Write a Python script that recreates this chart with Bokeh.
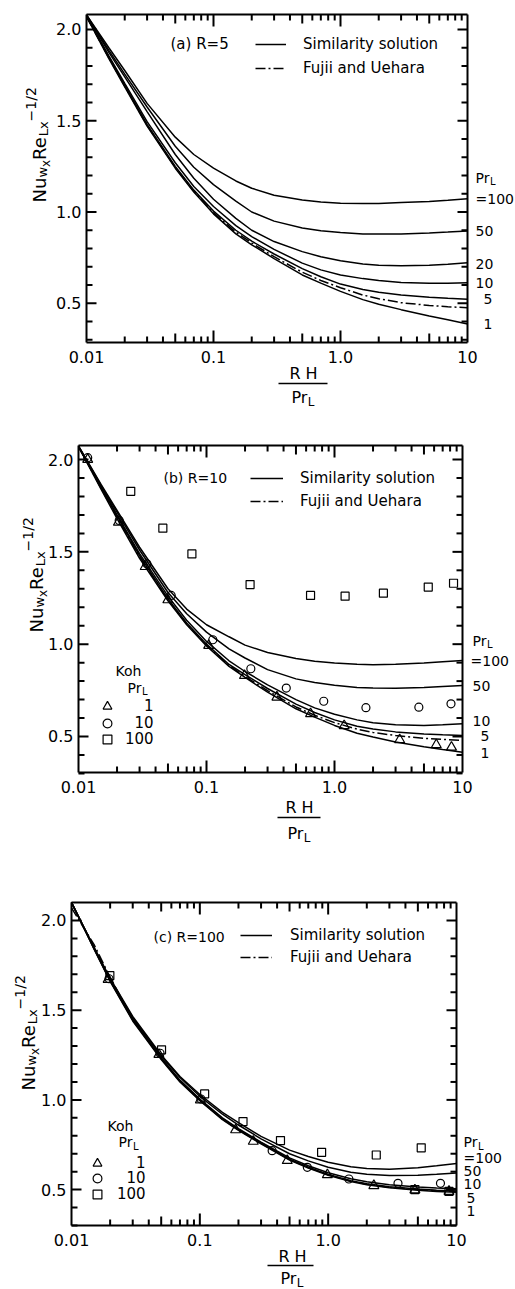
import math
from bokeh.plotting import figure
from bokeh.models import (FixedTicker, LogAxis, LinearAxis, Label, Legend, LegendItem,
                          CustomJSTickFormatter, PrintfTickFormatter, Arrow, Range1d)
from bokeh.layouts import column
from bokeh.embed import file_html
from bokeh.resources import INLINE

FONT = "DejaVu Sans"

# ---------------- data ----------------
X = [0.01, 0.015, 0.02, 0.03, 0.05, 0.07, 0.1, 0.15, 0.2, 0.3, 0.5, 0.7, 1.0, 1.5, 2.0, 3.0, 5.0, 7.0, 10.0]

# panel (a) R=5
a_pr1   = [2.07, 1.84, 1.685, 1.47, 1.24, 1.11, 0.99, 0.88, 0.82, 0.745, 0.655, 0.61, 0.565, 0.52, 0.495, 0.465, 0.43, 0.41, 0.386]
a_fujii = [2.07, 1.845, 1.69, 1.475, 1.245, 1.115, 0.995, 0.89, 0.83, 0.755, 0.67, 0.625, 0.585, 0.545, 0.525, 0.503, 0.488, 0.481, 0.475]
a_pr5   = [2.075, 1.85, 1.695, 1.48, 1.25, 1.12, 1.005, 0.90, 0.84, 0.77, 0.69, 0.645, 0.605, 0.575, 0.56, 0.545, 0.533, 0.527, 0.522]
a_pr10  = [2.075, 1.855, 1.705, 1.495, 1.27, 1.14, 1.03, 0.925, 0.865, 0.795, 0.72, 0.683, 0.655, 0.635, 0.625, 0.614, 0.61, 0.61, 0.612]
a_pr20  = [2.08, 1.875, 1.74, 1.55, 1.315, 1.185, 1.07, 0.965, 0.90, 0.838, 0.783, 0.755, 0.733, 0.715, 0.708, 0.705, 0.708, 0.714, 0.722]
a_pr50  = [2.08, 1.885, 1.755, 1.575, 1.36, 1.245, 1.15, 1.06, 1.00, 0.95, 0.912, 0.897, 0.887, 0.88, 0.879, 0.88, 0.885, 0.89, 0.896]
a_pr100 = [2.08, 1.90, 1.775, 1.595, 1.41, 1.315, 1.24, 1.17, 1.13, 1.092, 1.066, 1.055, 1.048, 1.046, 1.047, 1.052, 1.058, 1.064, 1.072]

# panel (b) R=10
b_pr1   = [2.07, 1.84, 1.68, 1.465, 1.235, 1.105, 0.99, 0.88, 0.82, 0.74, 0.65, 0.605, 0.56, 0.518, 0.497, 0.47, 0.445, 0.43, 0.415]
b_fujii = [2.07, 1.845, 1.69, 1.475, 1.24, 1.11, 0.995, 0.885, 0.825, 0.748, 0.66, 0.615, 0.575, 0.54, 0.522, 0.505, 0.49, 0.484, 0.479]
b_pr5   = [2.07, 1.85, 1.695, 1.48, 1.245, 1.115, 1.0, 0.89, 0.835, 0.76, 0.675, 0.63, 0.59, 0.555, 0.54, 0.525, 0.514, 0.509, 0.506]
b_pr10  = [2.07, 1.855, 1.70, 1.49, 1.26, 1.13, 1.015, 0.91, 0.852, 0.78, 0.70, 0.655, 0.62, 0.59, 0.575, 0.563, 0.56, 0.563, 0.569]
b_pr50  = [2.072, 1.86, 1.715, 1.51, 1.28, 1.165, 1.065, 0.975, 0.925, 0.862, 0.812, 0.792, 0.777, 0.766, 0.762, 0.761, 0.766, 0.771, 0.776]
b_pr100 = [2.074, 1.865, 1.725, 1.525, 1.30, 1.19, 1.105, 1.04, 0.995, 0.955, 0.922, 0.908, 0.898, 0.891, 0.889, 0.891, 0.898, 0.905, 0.912]

b_koh1_x   = [0.0118, 0.0205, 0.0332, 0.0499, 0.104, 0.198, 0.355, 0.65, 1.19, 3.23, 6.24, 8.2]
b_koh1_y   = [2.00, 1.66, 1.42, 1.24, 0.993, 0.83, 0.713, 0.623, 0.558, 0.482, 0.455, 0.442]
b_koh10_x  = [0.0118, 0.0208, 0.0342, 0.053, 0.112, 0.222, 0.42, 0.824, 1.76, 4.56, 8.13]
b_koh10_y  = [2.01, 1.67, 1.435, 1.264, 1.024, 0.867, 0.762, 0.691, 0.656, 0.659, 0.677]
b_koh100_x = [0.0256, 0.0456, 0.0769, 0.219, 0.65, 1.21, 2.41, 5.40, 8.51]
b_koh100_y = [1.828, 1.628, 1.489, 1.323, 1.264, 1.26, 1.276, 1.309, 1.33]

# panel (c) R=100
c_pr1   = [2.10, 1.84, 1.66, 1.44, 1.225, 1.10, 0.995, 0.89, 0.83, 0.755, 0.665, 0.62, 0.58, 0.545, 0.527, 0.51, 0.497, 0.49, 0.485]
c_fujii = [2.07, 1.865, 1.683, 1.45, 1.23, 1.105, 1.0, 0.893, 0.833, 0.758, 0.668, 0.623, 0.583, 0.548, 0.53, 0.513, 0.5, 0.494, 0.489]
c_pr5   = [2.10, 1.842, 1.663, 1.445, 1.23, 1.105, 1.0, 0.895, 0.835, 0.76, 0.67, 0.625, 0.585, 0.55, 0.533, 0.516, 0.503, 0.497, 0.492]
c_pr10  = [2.10, 1.845, 1.667, 1.45, 1.235, 1.11, 1.005, 0.90, 0.84, 0.765, 0.677, 0.633, 0.594, 0.56, 0.544, 0.527, 0.514, 0.509, 0.505]
c_pr50  = [2.10, 1.848, 1.672, 1.458, 1.245, 1.125, 1.02, 0.92, 0.86, 0.783, 0.70, 0.66, 0.625, 0.597, 0.585, 0.578, 0.58, 0.586, 0.593]
c_pr100 = [2.10, 1.85, 1.677, 1.465, 1.25, 1.13, 1.03, 0.93, 0.873, 0.797, 0.72, 0.685, 0.653, 0.628, 0.618, 0.614, 0.622, 0.633, 0.646]

c_koh1_x   = [0.0193, 0.048, 0.101, 0.19, 0.261, 0.48, 0.986, 2.27, 4.74, 8.74]
c_koh1_y   = [1.671, 1.253, 1.0, 0.833, 0.769, 0.662, 0.583, 0.522, 0.498, 0.49]
c_koh10_x  = [0.0196, 0.049, 0.102, 0.366, 0.688, 1.45, 3.5, 7.5]
c_koh10_y  = [1.675, 1.26, 1.005, 0.717, 0.624, 0.559, 0.535, 0.535]
c_koh100_x = [0.0199, 0.0503, 0.109, 0.217, 0.425, 0.889, 2.37, 4.74, 5.31, 8.74]
c_koh100_y = [1.693, 1.279, 1.033, 0.879, 0.773, 0.708, 0.693, 0.50, 0.733, 0.49]

KOH_LABELS = ["\u2007\u20071", "\u200710", "100"]

X_MAJOR = [0.01, 0.1, 1.0, 10.0]
X_MINOR = [m * d for d in (0.01, 0.1, 1.0) for m in (2, 3, 4, 6, 7, 8, 9)]
X_MID = [0.05, 0.5, 5.0]
Y_MAJOR = [0.5, 1.0, 1.5, 2.0]
Y_MINOR = [round(0.3 + 0.1 * i, 2) for i in range(18) if round(0.3 + 0.1 * i, 2) not in (0.5, 1.0, 1.5, 2.0)]

W = 515
TICK_W = 2


def style_axis(ax, show_labels):
    ax.axis_line_width = 2
    ax.axis_line_color = "black"
    ax.major_tick_in = 0
    ax.major_tick_out = 0
    ax.minor_tick_in = 0
    ax.minor_tick_out = 0
    if show_labels:
        ax.major_label_text_font = FONT
        ax.major_label_text_font_size = "16px"
        ax.major_label_text_color = "black"
    else:
        ax.major_label_text_font_size = "1px"
        ax.major_label_text_alpha = 0.0
        ax.major_label_standoff = 0


def make_panel(H, L, R, T, B, yb, yt):
    # the frame covers the whole figure; the box (pixels L..R, T..B) is drawn by
    # four axes fixed at the box edges, with inward ticks drawn on the same scales
    d = (R - L) / 3.0
    x0 = 10 ** (-2 - L / d)
    x1 = 10 ** (1 + (W - R) / d)
    s = (yt - yb) / (B - T)
    y0 = yb - (H - B) * s
    y1 = yt + T * s
    p = figure(width=W, height=H, x_axis_type="log", x_range=Range1d(x0, x1), y_range=Range1d(y0, y1),
               output_backend="svg", toolbar_location=None, x_axis_location=None, y_axis_location=None,
               min_border=0, min_border_left=0, min_border_right=0, min_border_top=0, min_border_bottom=0)
    p.title.visible = False
    p.xgrid.visible = False
    p.ygrid.visible = False
    p.outline_line_color = None
    p.background_fill_color = "white"
    p.border_fill_color = "white"
    xt = FixedTicker(ticks=X_MAJOR)
    yt_ = FixedTicker(ticks=Y_MAJOR)
    xf = CustomJSTickFormatter(code="return tick > 5 ? '10' : (tick > 0.5 ? '1.0' : (tick > 0.05 ? '0.1' : '0.01'));")

    bottom = LogAxis(ticker=xt, formatter=xf, fixed_location=yb, bounds=(0.01, 10))
    style_axis(bottom, True)
    bottom.major_label_standoff = 8
    p.add_layout(bottom, "below")

    left = LinearAxis(ticker=yt_, formatter=PrintfTickFormatter(format="%.1f"), fixed_location=0.01, bounds=(yb, yt))
    style_axis(left, True)
    left.major_label_standoff = 5
    p.add_layout(left, "left")

    top = LogAxis(ticker=xt, formatter=xf, fixed_location=yt, bounds=(0.01, 10))
    style_axis(top, False)
    p.add_layout(top, "above")

    right = LinearAxis(ticker=yt_, fixed_location=10, bounds=(yb, yt))
    style_axis(right, False)
    p.add_layout(right, "right")

    # inward tick marks (lengths in pixels converted through the scales)
    for ticks, ln in ((X_MAJOR[1:-1], 12), (X_MID, 9), (X_MINOR, 6)):
        dy = ln * s
        p.segment(x0=ticks, y0=[yb] * len(ticks), x1=ticks, y1=[yb + dy] * len(ticks),
                  line_color="black", line_width=TICK_W)
        p.segment(x0=ticks, y0=[yt] * len(ticks), x1=ticks, y1=[yt - dy] * len(ticks),
                  line_color="black", line_width=TICK_W)
    for ticks, ln in ((Y_MAJOR, 10), (Y_MINOR, 6)):
        f = 10 ** (ln / d)
        p.segment(x0=[0.01] * len(ticks), y0=ticks, x1=[0.01 * f] * len(ticks), y1=ticks,
                  line_color="black", line_width=TICK_W)
        p.segment(x0=[10.0] * len(ticks), y0=ticks, x1=[10.0 / f] * len(ticks), y1=ticks,
                  line_color="black", line_width=TICK_W)
    return p


def lab(p, H, px, py, text, size, align="left", baseline="middle", angle=0.0):
    p.add_layout(Label(x=px, y=H - py, x_units="screen", y_units="screen", text=text,
                       text_font=FONT, text_font_size=f"{size}px", text_align=align,
                       text_baseline=baseline, angle=angle, text_color="black"))


def ylabel(p, H, bx, by):
    a = math.pi / 2
    pieces = [("Nu", 18, 0, 0.0), ("w", 13, 3, 24.9), ("x", 12, 6, 35.5),
              ("Re", 18, 0, 42.6), ("Lx", 13, 4, 66.2), ("\u22121/2", 14, -9, 81.1)]
    for t, s, dx, dy in pieces:
        lab(p, H, bx + dx, by - dy, t, s, align="left", baseline="alphabetic", angle=a)


def xlabel(p, H, cx, y_rh, y_line, x0, x1, y_pr):
    lab(p, H, cx, y_rh, "R H", 16, align="center")
    p.add_layout(Arrow(x_start=x0, y_start=H - y_line, x_end=x1, y_end=H - y_line,
                       start_units="screen", end_units="screen", start=None, end=None,
                       line_color="black", line_width=1.5))
    lab(p, H, cx - 12, y_pr, "Pr", 16)
    lab(p, H, cx - 12 + 16.2, y_pr + 4, "L", 12)


def curves(p, ys_list, fujii):
    rs = []
    for ys in ys_list:
        rs.append(p.line(X, ys, line_color="black", line_width=1.5))
    rf = p.line(X, fujii, line_color="black", line_width=1.5, line_dash="10 3 2 3")
    return rs, rf


def main_legend(p, rs, rf, loc, gw, standoff, spacing):
    leg = Legend(items=[LegendItem(label="Similarity solution", renderers=[rs[0]]),
                        LegendItem(label="Fujii and Uehara", renderers=[rf])],
                 location=loc, glyph_width=gw, glyph_height=20, label_height=20,
                 label_standoff=standoff, spacing=spacing, padding=0, margin=0,
                 border_line_color=None, background_fill_alpha=0,
                 label_text_font=FONT, label_text_font_size="15px", label_text_color="black")
    p.add_layout(leg)


def koh(p, d):
    r1 = p.scatter(d[0], d[1], marker="triangle", size=10, line_color="black", fill_color=None, line_width=1.2)
    r2 = p.scatter(d[2], d[3], marker="circle", size=8, line_color="black", fill_color=None, line_width=1.2)
    r3 = p.scatter(d[4], d[5], marker="square", size=8, line_color="black", fill_color=None, line_width=1.2)
    return [r1, r2, r3]


def koh_legend(p, H, rs, gx, rows, standoff):
    for r, label, ry in zip(rs, KOH_LABELS, rows):
        leg = Legend(items=[LegendItem(label=label, renderers=[r])],
                     location=(gx - 11, H - (ry + 11)), glyph_width=22, glyph_height=22, label_height=22,
                     label_standoff=standoff, spacing=0, padding=0, margin=0,
                     border_line_color=None, background_fill_alpha=0,
                     label_text_font=FONT, label_text_font_size="15px", label_text_color="black")
        p.add_layout(leg)


# ---------------- panel (a) ----------------
Ha = 430
pa = make_panel(Ha, 86, 467, 14, 342, 0.285, 2.082)
rs, rf = curves(pa, [a_pr1, a_pr5, a_pr10, a_pr20, a_pr50, a_pr100], a_fujii)
main_legend(pa, rs, rf, (255, Ha - 78), 31, 17, 4)
lab(pa, Ha, 170, 43, "(a) R=5", 15)
for t, x, y in [("=100", 475, 198), ("50", 475, 230), ("20", 475, 263), ("10", 475, 282), ("5", 483, 298), ("1", 483, 323)]:
    lab(pa, Ha, x, y, t, 14)
lab(pa, Ha, 475, 177, "Pr", 14)
lab(pa, Ha, 489.5, 181, "L", 10)
ylabel(pa, Ha, 39, 202)
xlabel(pa, Ha, 303, 373, 383, 278, 327, 397)

# ---------------- panel (b) ----------------
Hb = 430
pb = make_panel(Hb, 78, 462, 15, 342, 0.305, 2.076)
rs, rf = curves(pb, [b_pr1, b_pr5, b_pr10, b_pr50, b_pr100], b_fujii)
main_legend(pb, rs, rf, (250, Hb - 80.7), 33, 17, 3)
mk = koh(pb, [b_koh1_x, b_koh1_y, b_koh10_x, b_koh10_y, b_koh100_x, b_koh100_y])
koh_legend(pb, Hb, mk, 107, [276, 292.7, 309.3], 7)
lab(pb, Hb, 163, 47.7, "(b) R=10", 14)
for t, x, y in [("=100", 470, 230), ("50", 472, 255), ("10", 472, 290), ("5", 480, 305), ("1", 480, 322)]:
    lab(pb, Hb, x, y, t, 14)
lab(pb, Hb, 472, 210, "Pr", 14)
lab(pb, Hb, 486.5, 214, "L", 10)
lab(pb, Hb, 115, 240.7, "Koh", 14)
lab(pb, Hb, 127, 257, "Pr", 14)
lab(pb, Hb, 141.5, 261, "L", 10)
ylabel(pb, Hb, 36, 202)
xlabel(pb, Hb, 299, 377, 387, 277, 320, 403)

# ---------------- panel (c) ----------------
Hc = 429
pc = make_panel(Hc, 71, 456, 42, 365, 0.30, 2.10)
rs, rf = curves(pc, [c_pr1, c_pr5, c_pr10, c_pr50, c_pr100], c_fujii)
main_legend(pc, rs, rf, (240, Hc - 106.7), 32, 18, 2)
mk = koh(pc, [c_koh1_x, c_koh1_y, c_koh10_x, c_koh10_y, c_koh100_x, c_koh100_y])
koh_legend(pc, Hc, mk, 97, [302.7, 318.3, 334], 9)
lab(pc, Hc, 153, 76, "(c) R=100", 14)
for t, x, y in [("=100", 463, 297), ("50", 463, 310.7), ("10", 463, 323), ("5", 466, 337), ("1", 466, 350)]:
    lab(pc, Hc, x, y, t, 14)
lab(pc, Hc, 463, 281.7, "Pr", 14)
lab(pc, Hc, 477.5, 285.7, "L", 10)
lab(pc, Hc, 107, 265, "Koh", 14)
lab(pc, Hc, 118, 281.7, "Pr", 14)
lab(pc, Hc, 132.5, 285.7, "L", 10)
ylabel(pc, Hc, 28, 230)
xlabel(pc, Hc, 292, 396, 405, 267, 313, 418)

layout = column(pa, pb, pc, spacing=0)
open("out.html", "w").write(file_html(layout, INLINE))
